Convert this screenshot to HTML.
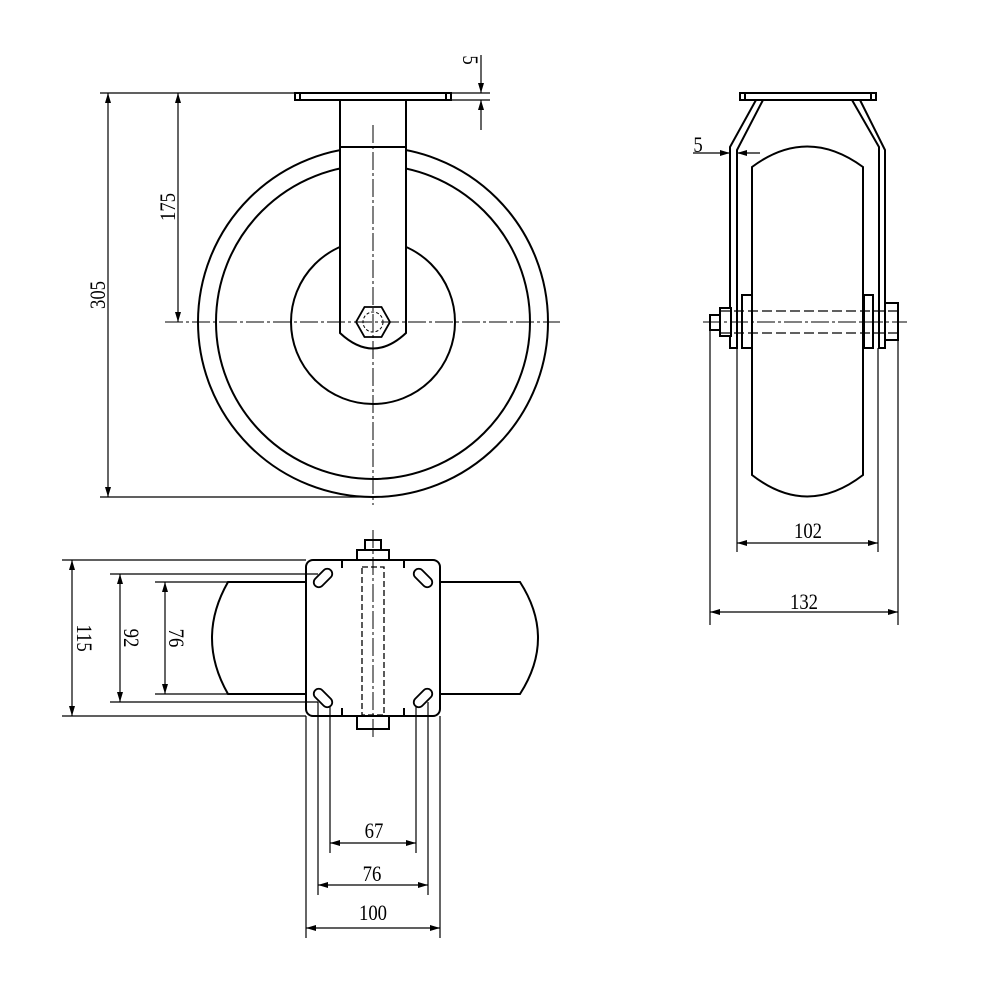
<html><body style="margin:0;background:#fff">
<svg width="1000" height="1000" xmlns="http://www.w3.org/2000/svg" style="display:block">
<defs><marker id="a" viewBox="0 0 10 6" refX="10" refY="3" markerWidth="10" markerHeight="6" orient="auto-start-reverse" markerUnits="userSpaceOnUse"><path d="M0,0L10,3L0,6z" fill="#000"/></marker></defs>
<g fill="none" stroke="#000" stroke-width="2">
<!-- front view -->
<circle cx="373" cy="322" r="175"/>
<circle cx="373" cy="322" r="157" />
<circle cx="373" cy="322" r="82"/>
<path d="M340,100V333Q373,364 406,333V100" fill="#fff"/>
<line x1="340" y1="147" x2="406" y2="147"/>
<rect x="295" y="93" width="156" height="7" fill="#fff"/>
<line x1="300" y1="93" x2="300" y2="100"/><line x1="446" y1="93" x2="446" y2="100"/>
<polygon points="390,322 381.5,337 364.5,337 356,322 364.5,307 381.5,307" stroke-width="1.8"/>
<circle cx="373" cy="322" r="10" stroke-width="1" stroke-dasharray="3,2"/>
<!-- side view -->
<rect x="740" y="93" width="136" height="7"/>
<line x1="745" y1="93" x2="745" y2="100"/><line x1="871" y1="93" x2="871" y2="100"/>
<path d="M756,100L730,147V348H737V150L763,100"/>
<path d="M852,100L879,147V348H885V150L860,100"/>
<path d="M752,167Q807,126 863,167V475Q807,518 752,475Z"/>
<rect x="742" y="295" width="10" height="53" fill="#fff"/>
<rect x="864" y="295" width="9" height="53" fill="#fff"/>
<rect x="720" y="308" width="11" height="28" fill="#fff"/>
<rect x="885" y="303" width="13" height="37" fill="#fff"/>
<rect x="710" y="315" width="10" height="15"/>
<g stroke-width="1.3" stroke-dasharray="10,4"><line x1="720" y1="311" x2="898" y2="311"/><line x1="720" y1="333" x2="898" y2="333"/></g>
<!-- bottom view -->
<path d="M306,582H228Q196,638 228,694H306"/>
<path d="M440,582H520Q556,638 520,694H440"/>
<rect x="306" y="560" width="134" height="156" rx="7" fill="#fff"/>
<g stroke-width="1.3" stroke-dasharray="6,3"><rect x="362" y="567" width="22" height="148"/></g>
<rect x="357" y="550" width="32" height="10"/>
<rect x="365" y="540" width="16" height="10"/>
<rect x="357" y="716" width="32" height="13"/>
<g stroke-width="2"><line x1="342" y1="560" x2="342" y2="568"/><line x1="404" y1="560" x2="404" y2="568"/><line x1="342" y1="708" x2="342" y2="716"/><line x1="404" y1="708" x2="404" y2="716"/></g>
<g stroke-width="1.8">
<rect x="312" y="573" width="22" height="10" rx="5" transform="rotate(-45 323 578)"/>
<rect x="412" y="573" width="22" height="10" rx="5" transform="rotate(45 423 578)"/>
<rect x="312" y="693" width="22" height="10" rx="5" transform="rotate(45 323 698)"/>
<rect x="412" y="693" width="22" height="10" rx="5" transform="rotate(-45 423 698)"/>
</g>
</g>
<!-- center lines -->
<g stroke="#000" stroke-width="1" fill="none" stroke-dasharray="18,3,3,3">
<line x1="165" y1="322" x2="560" y2="322"/>
<line x1="373" y1="125" x2="373" y2="505"/>
<line x1="703" y1="322" x2="907" y2="322"/>
<line x1="373" y1="530" x2="373" y2="740"/>
</g>
<!-- dimensions -->
<g stroke="#000" stroke-width="1.2" fill="none">
<line x1="100" y1="93" x2="340" y2="93"/><line x1="100" y1="497" x2="373" y2="497"/>
<line x1="108" y1="93" x2="108" y2="497" marker-start="url(#a)" marker-end="url(#a)"/>
<line x1="178" y1="93" x2="178" y2="322" marker-start="url(#a)" marker-end="url(#a)"/>
<line x1="451" y1="93" x2="490" y2="93"/><line x1="451" y1="100" x2="490" y2="100"/>
<line x1="481" y1="55" x2="481" y2="93" marker-end="url(#a)"/>
<line x1="481" y1="130" x2="481" y2="100" marker-end="url(#a)"/>
<line x1="693" y1="153" x2="730" y2="153" marker-end="url(#a)"/>
<line x1="760" y1="153" x2="737" y2="153" marker-end="url(#a)"/>
<line x1="737" y1="348" x2="737" y2="552"/><line x1="878" y1="348" x2="878" y2="552"/>
<line x1="710" y1="330" x2="710" y2="625"/><line x1="898" y1="340" x2="898" y2="625"/>
<line x1="737" y1="543" x2="878" y2="543" marker-start="url(#a)" marker-end="url(#a)"/>
<line x1="710" y1="612" x2="898" y2="612" marker-start="url(#a)" marker-end="url(#a)"/>
<line x1="62" y1="560" x2="306" y2="560"/><line x1="62" y1="716" x2="306" y2="716"/>
<line x1="110" y1="574" x2="318" y2="574"/><line x1="110" y1="702" x2="318" y2="702"/>
<line x1="155" y1="582" x2="306" y2="582"/><line x1="155" y1="694" x2="306" y2="694"/>
<line x1="72" y1="560" x2="72" y2="716" marker-start="url(#a)" marker-end="url(#a)"/>
<line x1="120" y1="574" x2="120" y2="702" marker-start="url(#a)" marker-end="url(#a)"/>
<line x1="165" y1="582" x2="165" y2="694" marker-start="url(#a)" marker-end="url(#a)"/>
<line x1="306" y1="716" x2="306" y2="938"/><line x1="440" y1="716" x2="440" y2="938"/>
<line x1="318" y1="702" x2="318" y2="895"/><line x1="428" y1="702" x2="428" y2="895"/>
<line x1="330" y1="706" x2="330" y2="853"/><line x1="416" y1="706" x2="416" y2="853"/>
<line x1="330" y1="843" x2="416" y2="843" marker-start="url(#a)" marker-end="url(#a)"/>
<line x1="318" y1="885" x2="428" y2="885" marker-start="url(#a)" marker-end="url(#a)"/>
<line x1="306" y1="928" x2="440" y2="928" marker-start="url(#a)" marker-end="url(#a)"/>
</g>
<g font-family="Liberation Serif, serif" font-size="22" fill="#000" text-anchor="middle">
<text transform="translate(105,295) rotate(-90) scale(0.85,1)">305</text>
<text transform="translate(175,207) rotate(-90) scale(0.85,1)">175</text>
<text transform="translate(463,60) rotate(90) scale(0.85,1)">5</text>
<text transform="translate(698,152) scale(0.85,1)">5</text>
<text transform="translate(808,538) scale(0.85,1)">102</text>
<text transform="translate(804,609) scale(0.85,1)">132</text>
<text transform="translate(77,638) rotate(90) scale(0.85,1)">115</text>
<text transform="translate(124,638) rotate(90) scale(0.85,1)">92</text>
<text transform="translate(169,638) rotate(90) scale(0.85,1)">76</text>
<text transform="translate(374,838) scale(0.85,1)">67</text>
<text transform="translate(372,881) scale(0.85,1)">76</text>
<text transform="translate(373,920) scale(0.85,1)">100</text>
</g>
</svg>
</body></html>
